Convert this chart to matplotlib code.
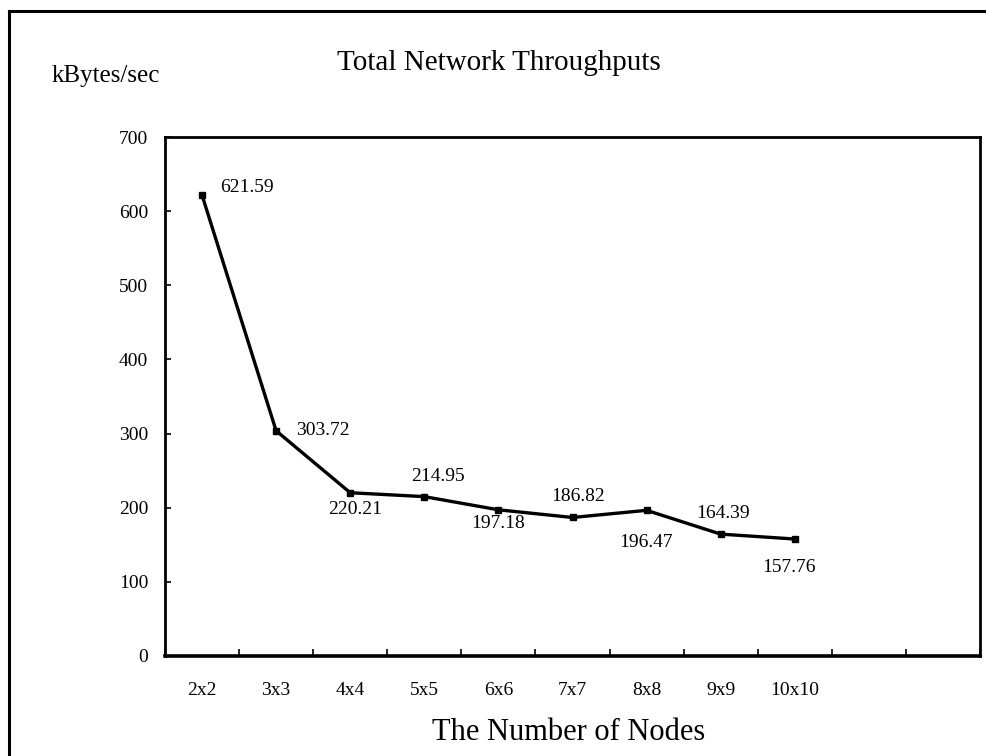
import matplotlib
matplotlib.use("Agg")
import matplotlib.pyplot as plt
from matplotlib.lines import Line2D
import numpy as np

# data
nodes = ["2x2", "3x3", "4x4", "5x5", "6x6", "7x7", "8x8", "9x9", "10x10"]
throughput = [621.59, 303.72, 220.21, 214.95, 197.18, 186.82, 196.47, 164.39, 157.76]
y_ticks = [0, 100, 200, 300, 400, 500, 600, 700]
n_slots = 11  # axis has room for 11 categories, only 9 used

# label offsets in pixels (dx, dy), as placed in the original
label_offsets = [(18, 8), (20, 0), (5, -17), (14, 20), (0, -14),
                 (6, 21), (-1, -32), (2, 21), (-6, -28)]

plt.rcParams["font.family"] = ["Liberation Serif", "DejaVu Serif"]

W, H = 987, 756
fig = plt.figure(figsize=(W / 100, H / 100), dpi=100)
ax = fig.add_axes([165 / W, 1 - 656 / H, (980 - 165) / W, (656 - 137) / H])

x = np.arange(len(nodes)) + 0.5
ax.plot(x, throughput, color="black", lw=2.4, marker="s", ms=4,
        solid_joinstyle="round")

for xi, val, (dx, dy) in zip(x, throughput, label_offsets):
    ha = "left" if dx >= 18 else "center"
    ax.annotate(f"{val:.2f}", (xi, val), xytext=(dx, dy),
                textcoords="offset pixels", ha=ha, va="center", fontsize=14)

ax.set_xlim(0, n_slots)
ax.set_ylim(0, 700)
ax.set_yticks(y_ticks)
ax.set_yticklabels([str(v) for v in y_ticks], fontsize=14)
ax.set_xticks(np.arange(0, n_slots + 1))
ax.set_xticklabels([])
ax.set_xticks(x, minor=True)
ax.set_xticklabels(nodes, minor=True, fontsize=14)
ax.tick_params(axis="y", direction="in", length=4, width=1.2, pad=12)
ax.tick_params(axis="x", which="major", direction="in", length=5, width=1.2)
ax.tick_params(axis="x", which="minor", length=0, pad=19)

for side, lw in [("left", 2.0), ("bottom", 2.6), ("top", 2.0), ("right", 2.0)]:
    ax.spines[side].set_linewidth(lw)

fig.text(337 / W, 1 - 70 / H, "Total Network Throughputs", fontsize=21,
         ha="left", va="baseline")
fig.text(52 / W, 1 - 82 / H, "kBytes/sec", fontsize=18,
         ha="left", va="baseline")
fig.text(569 / W, 1 - 733 / H, "The Number of Nodes", fontsize=22,
         ha="center", va="center")

# outer frame of the scanned figure (only top and left edges visible)
fig.add_artist(Line2D([9 / W, 1], [1 - 11 / H, 1 - 11 / H],
                      transform=fig.transFigure, color="black", lw=2.2))
fig.add_artist(Line2D([9 / W, 9 / W], [0, 1 - 11 / H],
                      transform=fig.transFigure, color="black", lw=2.2))

fig.savefig("out.png", dpi=100)
